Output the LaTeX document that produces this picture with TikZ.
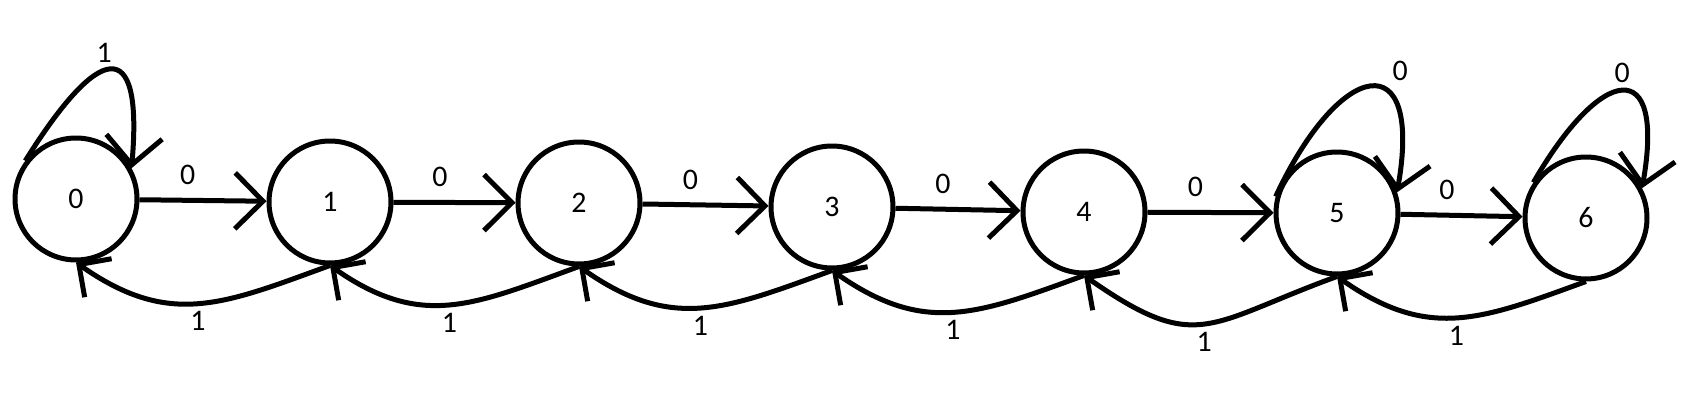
\documentclass[tikz,border=0pt]{standalone}
\usepackage{fontspec}
\setmainfont{Carlito}
\usetikzlibrary{arrows.meta}
\tikzstyle{state} = [circle, draw, line width=0.1cm, minimum size=2.44cm, inner sep=0pt]
\tikzstyle{trans} = [line width=0.1cm, -{Straight Barb[length=0.56cm,width=1.12cm]}]
\tikzstyle{back} = [line width=0.1cm, -{Straight Barb[length=0.47cm,width=0.94cm]}]

\begin{document}
\begin{tikzpicture}[x=0.02cm,y=-0.02cm,font=\fontsize{17}{20}\selectfont]
	\useasboundingbox (0,0) rectangle (1698,418);
	% states
	\node[state] (s0) at (76,199) {0};
	\node[state] (s1) at (330,202) {1};
	\node[state] (s2) at (579,203) {2};
	\node[state] (s3) at (832,207) {3};
	\node[state] (s4) at (1084,212) {4};
	\node[state] (s5) at (1337,213) {5};
	\node[state] (s6) at (1586,218) {6};
	% forward on 0
	\foreach \a/\b in {0/1,1/2,2/3,3/4,4/5,5/6}
		\draw[trans] (s\a) -- node[above=4pt,pos=0.38]{0} (s\b);
	% back on 1
	\foreach \a/\b in {1/0,2/1,3/2,4/3,6/5}
		\draw[back] (s\a.south) to[out=-160,in=-35,looseness=1.15] node[below]{1} (s\b.south);
	\draw[back] (s5.south) to[out=-160,in=-35,looseness=1.4] node[below]{1} (s4.south);
	% self loops
	\draw[trans] (s0.143) to[out=58,in=85,looseness=3.3] node[above,pos=0.45]{1} (s0.29);
	\draw[trans] (s5.165) to[out=65,in=80,looseness=3.2] node[above right,pos=0.6]{0} (s5.19);
	\draw[trans] (s6.146) to[out=60,in=80,looseness=3.2] node[above]{0} (s6.28);
\end{tikzpicture}
\end{document}
